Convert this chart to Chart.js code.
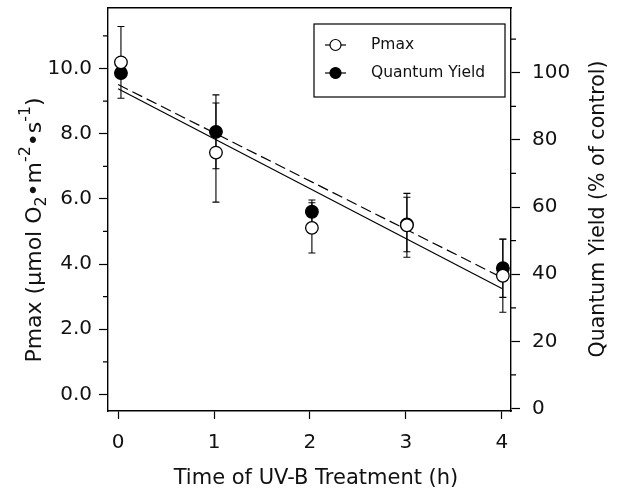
<!DOCTYPE html>
<html>
<head>
<meta charset="utf-8">
<script src="https://cdn.jsdelivr.net/npm/chart.js@4.4.1/dist/chart.umd.min.js"></script>
<style>
  html, body { margin: 0; padding: 0; background: #fff; }
  #wrap { width: 620px; height: 492px; }
</style>
</head>
<body>
<div id="wrap"><canvas id="chart" width="620" height="492"></canvas></div>
<script>
// time of UV-B treatment (h) - points sit a hair right of the ticks in the original
const pointX = [0.03, 1.02, 2.02, 3.01, 4.01];

// Pmax (umol O2 m-2 s-1), left axis
const pmax = [10.19, 7.42, 5.11, 5.19, 3.64];
const pmaxErr = [1.10, 1.52, 0.77, 0.98, 1.12];

// quantum yield (% of control), right axis
const qy = [99.9, 82.4, 58.6, 54.8, 41.8];
const qyErr = [0, 11.0, 3.5, 8.1, 8.7];

// regression lines, read at both ends
const fitX = [0, 4];
const pmaxFit = [9.38, 3.25];
const qyFit = [96.5, 39.0];

// axis ticks
const xTicks = [0, 1, 2, 3, 4];
const leftTicks = [0, 2, 4, 6, 8, 10];
const leftMinor = [1, 3, 5, 7, 9, 11];
const rightTicks = [0, 20, 40, 60, 80, 100];
const rightMinor = [10, 30, 50, 70, 90, 110];

const FONT = 'DejaVu Sans';
const INK = '#111';

const toPts = (xs, ys) => xs.map((x, i) => ({ x: x, y: ys[i] }));

const errorBars = {
  id: 'errorBars',
  beforeDatasetsDraw(chart) {
    const ctx = chart.ctx;
    const xs = chart.scales.x;
    const cap = 3.5;
    ctx.save();
    ctx.strokeStyle = '#000';
    ctx.lineWidth = 1.1;
    [[pmax, pmaxErr, 'y'], [qy, qyErr, 'y2']].forEach(([vals, errs, axis]) => {
      const ys = chart.scales[axis];
      vals.forEach((v, i) => {
        if (!errs[i]) return;
        const x = xs.getPixelForValue(pointX[i]);
        const top = ys.getPixelForValue(v + errs[i]);
        const bot = ys.getPixelForValue(v - errs[i]);
        ctx.beginPath();
        ctx.moveTo(x, top); ctx.lineTo(x, bot);
        ctx.moveTo(x - cap, top); ctx.lineTo(x + cap, top);
        ctx.moveTo(x - cap, bot); ctx.lineTo(x + cap, bot);
        ctx.stroke();
      });
    });
    ctx.restore();
  }
};

const minorTicks = {
  id: 'minorTicks',
  afterDraw(chart) {
    const ctx = chart.ctx;
    const l = chart.scales.y, r = chart.scales.y2;
    ctx.save();
    ctx.strokeStyle = '#000';
    ctx.lineWidth = 1.2;
    ctx.beginPath();
    leftMinor.forEach(v => {
      const y = l.getPixelForValue(v);
      ctx.moveTo(l.right - 5, y); ctx.lineTo(l.right, y);
    });
    rightMinor.forEach(v => {
      const y = r.getPixelForValue(v);
      ctx.moveTo(r.left, y); ctx.lineTo(r.left + 5, y);
    });
    ctx.stroke();
    ctx.restore();
  }
};

// left title has sub/superscripts so it is drawn piece by piece
const leftTitle = [
  { t: 'Pmax (\u00b5mol O' }, { t: '2', sub: true }, { t: '\u2022m' },
  { t: '-2', sup: true }, { t: '\u2022s' }, { t: '-1', sup: true }, { t: ')' }
];

function drawRich(ctx, parts, size) {
  const fontOf = p => ((p.sub || p.sup) ? size * 0.72 : size) + 'px "' + FONT + '"';
  let total = 0;
  parts.forEach(p => { ctx.font = fontOf(p); total += ctx.measureText(p.t).width; });
  let x = -total / 2;
  parts.forEach(p => {
    ctx.font = fontOf(p);
    const dy = p.sub ? size * 0.3 : p.sup ? -size * 0.42 : 0;
    ctx.fillText(p.t, x, dy);
    x += ctx.measureText(p.t).width;
  });
}

const titles = {
  id: 'titles',
  afterDraw(chart) {
    const ctx = chart.ctx;
    ctx.save();
    ctx.fillStyle = INK;
    ctx.textBaseline = 'middle';
    ctx.textAlign = 'left';

    ctx.save();
    ctx.translate(35, 230);
    ctx.rotate(-Math.PI / 2);
    drawRich(ctx, leftTitle, 22);
    ctx.restore();

    ctx.textAlign = 'center';
    ctx.font = '20.5px "' + FONT + '"';
    ctx.save();
    ctx.translate(599, 209);
    ctx.rotate(-Math.PI / 2);
    ctx.fillText('Quantum Yield (% of control)', 0, 0);
    ctx.restore();

    ctx.font = '21px "' + FONT + '"';
    ctx.fillText('Time of UV-B Treatment (h)', 316, 479);
    ctx.restore();
  }
};

const legendBox = {
  id: 'legendBox',
  afterDraw(chart) {
    const ctx = chart.ctx;
    const box = { l: 314, t: 24, r: 505, b: 97 };
    const rows = [
      { y: 45, label: 'Pmax', fill: '#fff' },
      { y: 73, label: 'Quantum Yield', fill: '#000' }
    ];
    ctx.save();
    ctx.fillStyle = '#fff';
    ctx.fillRect(box.l, box.t, box.r - box.l, box.b - box.t);
    ctx.strokeStyle = '#000';
    ctx.lineWidth = 1.2;
    ctx.strokeRect(box.l, box.t, box.r - box.l, box.b - box.t);
    rows.forEach(row => {
      ctx.beginPath();
      ctx.moveTo(325, row.y); ctx.lineTo(346, row.y);
      ctx.stroke();
      ctx.beginPath();
      ctx.arc(335.5, row.y, 5.5, 0, Math.PI * 2);
      ctx.fillStyle = row.fill;
      ctx.fill();
      ctx.stroke();
      ctx.fillStyle = INK;
      ctx.font = '15.5px "' + FONT + '"';
      ctx.textBaseline = 'middle';
      ctx.fillText(row.label, 371, row.y);
    });
    ctx.restore();
  }
};

const tickFont = { family: FONT, size: 20 };
const fixTicks = vals => s => { s.ticks = vals.map(v => ({ value: v })); };
// pin axis boxes so the plot frame lands where it is in the original
const fitBox = (w, h) => s => {
  if (w !== null) s.width = w;
  if (h !== null) s.height = h;
  s.paddingTop = 0; s.paddingBottom = 0;
  s.paddingLeft = 0; s.paddingRight = 0;
};

new Chart(document.getElementById('chart'), {
  type: 'scatter',
  data: {
    datasets: [
      {
        label: 'Pmax',
        data: toPts(pointX, pmax),
        yAxisID: 'y',
        pointRadius: 6.3,
        pointBackgroundColor: '#fff',
        pointBorderColor: '#000',
        pointBorderWidth: 1.3,
        showLine: false
      },
      {
        label: 'Quantum Yield',
        data: toPts(pointX, qy),
        yAxisID: 'y2',
        pointRadius: 6.3,
        pointBackgroundColor: '#000',
        pointBorderColor: '#000',
        pointBorderWidth: 1.3,
        showLine: false
      },
      {
        label: 'Pmax fit',
        data: toPts(fitX, pmaxFit),
        yAxisID: 'y',
        showLine: true,
        pointRadius: 0,
        borderColor: '#000',
        borderWidth: 1.2
      },
      {
        label: 'QY fit',
        data: toPts(fitX, qyFit),
        yAxisID: 'y2',
        showLine: true,
        pointRadius: 0,
        borderColor: '#000',
        borderWidth: 1.2,
        borderDash: [11, 5]
      }
    ]
  },
  options: {
    responsive: false,
    animation: false,
    devicePixelRatio: 1,
    layout: { padding: { top: 7, left: 0, right: 0, bottom: 0 } },
    plugins: { legend: { display: false }, tooltip: { enabled: false } },
    scales: {
      x: {
        type: 'linear', position: 'bottom', min: -0.105, max: 4.095,
        afterBuildTicks: fixTicks(xTicks),
        afterFit: fitBox(null, 81),
        grid: { drawOnChartArea: false, tickLength: 8, tickWidth: 1.2, tickColor: '#000' },
        border: { color: '#000', width: 1.4 },
        ticks: { font: tickFont, color: INK, padding: 12 }
      },
      xTop: {
        type: 'linear', position: 'top', min: -0.105, max: 4.095,
        afterFit: fitBox(null, 0),
        grid: { drawOnChartArea: false, drawTicks: false },
        border: { color: '#000', width: 1.4 },
        ticks: { display: false }
      },
      y: {
        type: 'linear', position: 'left', min: -0.51, max: 11.87,
        afterBuildTicks: fixTicks(leftTicks),
        afterFit: fitBox(108, null),
        grid: { drawOnChartArea: false, tickLength: 9, tickWidth: 1.2, tickColor: '#000' },
        border: { color: '#000', width: 1.4 },
        ticks: { font: tickFont, color: INK, padding: 7, callback: v => v.toFixed(1) }
      },
      y2: {
        type: 'linear', position: 'right', min: -0.74, max: 119.4,
        afterBuildTicks: fixTicks(rightTicks),
        afterFit: fitBox(109, null),
        grid: { drawOnChartArea: false, tickLength: 9, tickWidth: 1.2, tickColor: '#000' },
        border: { color: '#000', width: 1.4 },
        ticks: { font: tickFont, color: INK, padding: 12 }
      }
    }
  },
  plugins: [errorBars, minorTicks, titles, legendBox]
});
</script>
</body>
</html>
